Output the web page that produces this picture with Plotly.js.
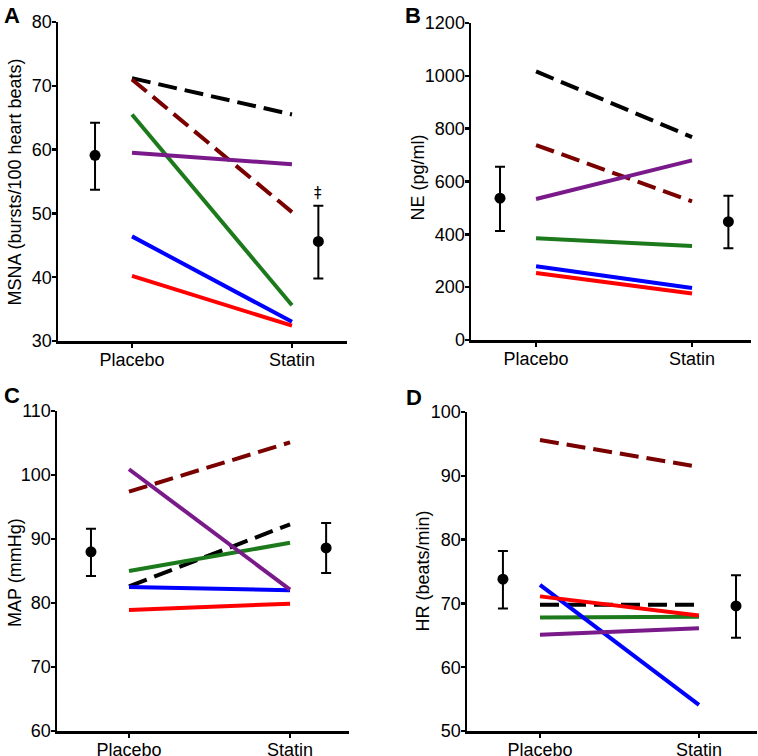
<!DOCTYPE html>
<html>
<head>
<meta charset="utf-8">
<script src="https://cdn.plot.ly/plotly-3.0.1.min.js"></script>
<style>html,body{margin:0;padding:0;background:#fff;}#chart{width:758px;height:756px;}</style>
</head>
<body>
<div id="chart"></div>
<script>
// ---- categories / tick labels ----
const conditions = ['Placebo', 'Statin'];
const conditionX = [1, 2];

// ---- Panel A: MSNA (bursts/100 heart beats) ----
const msnaBlack  = [71.2, 65.5];
const msnaMaroon = [71.0, 50.2];
const msnaGreen  = [65.5, 35.6];
const msnaPurple = [59.5, 57.7];
const msnaBlue   = [46.4, 33.0];
const msnaRed    = [40.2, 32.4];
const msnaMean   = [59.1, 45.6];
const msnaHi     = [64.2, 51.2];
const msnaLo     = [53.7, 39.8];

// ---- Panel B: NE (pg/ml) ----
const neBlack  = [1017, 768];
const neMaroon = [738, 525];
const neGreen  = [385, 356];
const nePurple = [534, 680];
const neBlue   = [279, 197];
const neRed    = [254, 176];
const neMean   = [537, 448];
const neHi     = [656, 546];
const neLo     = [413, 347];

// ---- Panel C: MAP (mmHg) ----
const mapBlack  = [82.6, 92.3];
const mapMaroon = [97.4, 105.1];
const mapGreen  = [85.0, 89.4];
const mapPurple = [100.9, 82.1];
const mapBlue   = [82.5, 82.0];
const mapRed    = [78.9, 79.9];
const mapMean   = [88.0, 88.6];
const mapHi     = [91.6, 92.5];
const mapLo     = [84.2, 84.7];

// ---- Panel D: HR (beats/min) ----
const hrBlack  = [69.8, 69.8];
const hrMaroon = [95.6, 91.4];
const hrGreen  = [67.8, 67.9];
const hrPurple = [65.1, 66.1];
const hrBlue   = [72.9, 54.1];
const hrRed    = [71.1, 68.1];
const hrMean   = [73.8, 69.6];
const hrHi     = [78.2, 74.4];
const hrLo     = [69.2, 64.6];

// ---- axis titles / panel letters ----
const yTitles = ['MSNA (bursts/100 heart beats)', 'NE (pg/ml)', 'MAP (mmHg)', 'HR (beats/min)'];
const panelLetters = ['A', 'B', 'C', 'D'];

// ---- styles ----
const subjectStyles = [
  {color: '#000000', dash: '19px,8px', width: 4},
  {color: '#7a0000', dash: '19px,8px', width: 4},
  {color: '#1c7a1c', dash: 'solid', width: 4},
  {color: '#0000ff', dash: 'solid', width: 4},
  {color: '#7a1a8a', dash: 'solid', width: 4},
  {color: '#ff0000', dash: 'solid', width: 4}
];

const panels = [
  {ax: '', subjects: [msnaBlack, msnaMaroon, msnaGreen, msnaBlue, msnaPurple, msnaRed],
   mean: msnaMean, hi: msnaHi, lo: msnaLo, meanX: [0.769, 2.165]},
  {ax: '2', subjects: [neBlack, neMaroon, neGreen, neBlue, nePurple, neRed],
   mean: neMean, hi: neHi, lo: neLo, meanX: [0.769, 2.233]},
  {ax: '3', subjects: [mapBlack, mapMaroon, mapGreen, mapBlue, mapPurple, mapRed],
   mean: mapMean, hi: mapHi, lo: mapLo, meanX: [0.764, 2.224]},
  {ax: '4', subjects: [hrBlack, hrMaroon, hrGreen, hrBlue, hrPurple, hrRed],
   mean: hrMean, hi: hrHi, lo: hrLo, meanX: [0.767, 2.233]}
];

const traces = [];
panels.forEach(p => {
  p.subjects.forEach((vals, i) => {
    const s = subjectStyles[i];
    traces.push({
      type: 'scatter', mode: 'lines', x: conditionX, y: vals,
      xaxis: 'x' + p.ax, yaxis: 'y' + p.ax,
      line: {color: s.color, width: s.width, dash: s.dash},
      showlegend: false, hoverinfo: 'y'
    });
  });
  traces.push({
    type: 'scatter', mode: 'markers', x: p.meanX, y: p.mean,
    xaxis: 'x' + p.ax, yaxis: 'y' + p.ax,
    marker: {color: '#000', size: 11},
    error_y: {type: 'data', symmetric: false,
      array: p.hi.map((h, k) => h - p.mean[k]),
      arrayminus: p.mean.map((m, k) => m - p.lo[k]),
      color: '#000', thickness: 2, width: 5},
    showlegend: false
  });
});

const W = 758, H = 756;
const font = {family: 'Liberation Sans, Arial, sans-serif', size: 18, color: '#000'};

function xAxis(left, right, range, anchor) {
  return {domain: [left / W, right / W], range: range, anchor: anchor,
    tickmode: 'array', tickvals: conditionX, ticktext: conditions,
    showline: true, linecolor: '#000', linewidth: 2.5,
    ticks: 'outside', ticklen: 4, tickwidth: 2.5, tickcolor: '#000',
    ticklabelstandoff: -3,
    showgrid: false, zeroline: false, tickfont: font, fixedrange: true};
}
function yAxis(top, bottom, range, dtick, anchor) {
  return {domain: [1 - bottom / H, 1 - top / H], range: range, anchor: anchor,
    dtick: dtick, tick0: 0,
    showline: true, linecolor: '#000', linewidth: 2.5,
    ticks: 'outside', ticklen: 4, tickwidth: 2.5, tickcolor: '#000',
    ticklabelstandoff: -4,
    showgrid: false, zeroline: false, tickfont: font, fixedrange: true};
}

// panel frames in pixels: [left, right, top, bottom]
const frames = [[58, 347, 22, 341], [471, 751, 23, 340], [57, 349, 411, 731], [467, 757, 412, 731]];
const titleX = [14.5, 417.5, 15, 422.5];
const titleY = [182, 178, 573, 571];
const letterPos = [[2, 1], [403, 1], [2, 381], [404, 383]];

const annotations = [];
yTitles.forEach((t, i) => {
  annotations.push({text: t, xref: 'paper', yref: 'paper', x: titleX[i] / W, y: 1 - titleY[i] / H,
    xanchor: 'center', yanchor: 'middle', textangle: -90, showarrow: false, font: font});
});
panelLetters.forEach((t, i) => {
  annotations.push({text: '<b>' + t + '</b>', xref: 'paper', yref: 'paper',
    x: letterPos[i][0] / W, y: 1 - letterPos[i][1] / H, xanchor: 'left', yanchor: 'top',
    showarrow: false, font: {family: 'Liberation Sans, Arial, sans-serif', size: 22, color: '#000'}});
});
annotations.push({text: '‡', xref: 'x', yref: 'y', x: 2.165, y: msnaHi[1], yshift: 2,
  xanchor: 'center', yanchor: 'bottom', showarrow: false,
  font: {family: 'DejaVu Sans, Liberation Sans, Arial', size: 15, color: '#000000'}});

const layout = {
  width: W, height: H,
  margin: {l: 0, r: 0, t: 0, b: 0},
  paper_bgcolor: '#fff', plot_bgcolor: 'rgba(0,0,0,0)',
  font: font, showlegend: false,
  xaxis:  xAxis(frames[0][0], frames[0][1], [0.5375, 2.344], 'y'),
  yaxis:  yAxis(frames[0][2], frames[0][3], [30, 80], 10, 'x'),
  xaxis2: xAxis(frames[1][0], frames[1][1], [0.583, 2.378], 'y2'),
  yaxis2: yAxis(frames[1][2], frames[1][3], [0, 1200], 200, 'x2'),
  xaxis3: xAxis(frames[2][0], frames[2][1], [0.553, 2.366], 'y3'),
  yaxis3: yAxis(frames[2][2], frames[2][3], [60, 110], 10, 'x3'),
  xaxis4: xAxis(frames[3][0], frames[3][1], [0.541, 2.365], 'y4'),
  yaxis4: yAxis(frames[3][2], frames[3][3], [50, 100], 10, 'x4'),
  annotations: annotations
};

Plotly.newPlot('chart', traces, layout, {displayModeBar: false, staticPlot: true});
</script>
</body>
</html>
